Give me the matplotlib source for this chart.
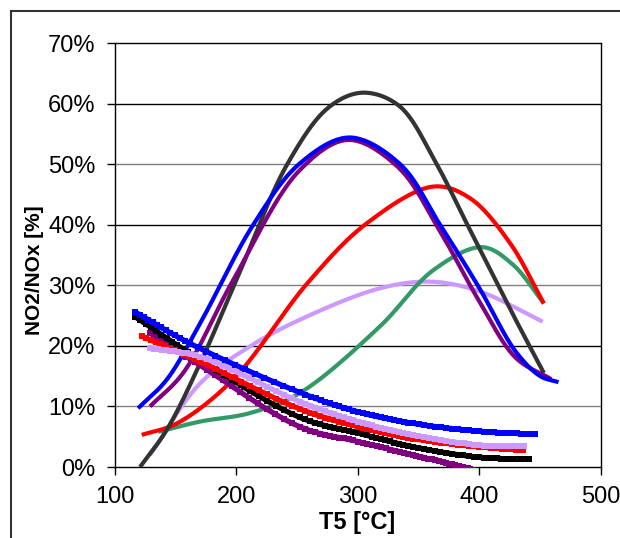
import numpy as np
import matplotlib
matplotlib.use("Agg")
import matplotlib.pyplot as plt
from matplotlib.lines import Line2D
from matplotlib.ticker import FuncFormatter

plt.rcParams['font.family'] = ['Liberation Sans', 'DejaVu Sans']

# smooth curves (T5 [°C], NO2/NOx [%])
gray_t = [120.6, 142.5, 170, 200, 241.8, 276, 304, 334, 364.7, 389.5, 428, 453]
gray_v = [0.0, 6.1, 17.1, 30.9, 50, 59.4, 61.8, 59.6, 50, 40.2, 25, 15.5]

blue_t = [119, 142.5, 170, 213.8, 252, 293, 334.6, 367.5, 400, 430, 450, 465]
blue_v = [9.7, 14.4, 23.7, 40, 50.1, 54.4, 50, 40, 29.5, 19, 15, 14]

purple_t = [128.8, 156, 197.4, 252, 292, 333, 367, 400, 430, 459]
purple_v = [10.0, 15.5, 30.9, 49, 54, 49.5, 39.1, 27.3, 18, 14.5]

red_t = [122, 151, 197, 259, 307, 362, 392, 425, 453]
red_v = [5.3, 7.2, 14.4, 30.5, 40.2, 46.3, 44.4, 37, 27]

green_t = [135.6, 170, 211, 252, 318, 362, 402, 427, 453]
green_v = [5.8, 7.5, 8.9, 12.2, 23.2, 32.5, 36.3, 33.5, 27]

lilac_t = [128.8, 170, 211, 252, 318, 360, 400, 452]
lilac_v = [2.0, 13.8, 19.9, 24.3, 29.5, 30.6, 29.0, 24]

# marker series (decreasing)
sq_blue_t = [116.5, 161.7, 252.3, 300, 345.5, 400, 445.7]
sq_blue_v = [25.6, 20.4, 12.3, 9.1, 7.2, 5.9, 5.4]

sq_black_t = [116.5, 170, 252, 300, 345, 400, 441]
sq_black_v = [24.8, 17.7, 8.2, 5.6, 3.35, 1.6, 1.3]

sq_red_t = [121.9, 170, 252, 300, 345, 400, 436]
sq_red_v = [21.6, 17.4, 9.6, 6.65, 4.7, 3.35, 2.8]

sq_lilac_t = [128.8, 170, 252, 300, 345, 400, 437]
sq_lilac_v = [19.6, 18.2, 10.8, 7.5, 5.3, 3.6, 3.4]

sq_purple_t = [128.8, 170, 252, 300, 345, 380, 395]
sq_purple_v = [22.1, 16.8, 6.65, 4.2, 2.0, 0.3, -0.5]

# pixel scale of the plot area, used only to shape the curve smoothing
SX, SY = 486 / 400, 424 / 70


def smooth(xs, ys, n=24, alpha=0.5):
    # centripetal Catmull-Rom through the points (Excel-like smoothed line)
    p = np.column_stack([np.asarray(xs) * SX, np.asarray(ys) * SY]).astype(float)
    p = np.vstack([2 * p[0] - p[1], p, 2 * p[-1] - p[-2]])
    out = []
    for i in range(1, len(p) - 2):
        p0, p1, p2, p3 = p[i - 1], p[i], p[i + 1], p[i + 2]
        t0 = 0.0
        t1 = t0 + np.linalg.norm(p1 - p0) ** alpha
        t2 = t1 + np.linalg.norm(p2 - p1) ** alpha
        t3 = t2 + np.linalg.norm(p3 - p2) ** alpha
        t = np.linspace(t1, t2, n, endpoint=False)[:, None]
        a1 = (t1 - t) / (t1 - t0) * p0 + (t - t0) / (t1 - t0) * p1
        a2 = (t2 - t) / (t2 - t1) * p1 + (t - t1) / (t2 - t1) * p2
        a3 = (t3 - t) / (t3 - t2) * p2 + (t - t2) / (t3 - t2) * p3
        b1 = (t2 - t) / (t2 - t0) * a1 + (t - t0) / (t2 - t0) * a2
        b2 = (t3 - t) / (t3 - t1) * a2 + (t - t1) / (t3 - t1) * a3
        out.append((t2 - t) / (t2 - t1) * b1 + (t - t1) / (t2 - t1) * b2)
    out.append(p[-2][None, :])
    out = np.vstack(out)
    return out[:, 0] / SX, out[:, 1] / SY


fig = plt.figure(figsize=(6.2, 5.38), dpi=100)
ax = fig.add_axes([115 / 620, 71 / 538, 486 / 620, 424 / 538])

# gridlines
for g in range(10, 70, 10):
    ax.axhline(g, color='black' if g % 20 == 0 else '#808080', lw=1.0, zorder=1)

smooth_series = [
    (lilac_t, lilac_v, '#CC99FF'),
    (green_t, green_v, '#339966'),
    (red_t, red_v, '#FF0000'),
    (gray_t, gray_v, '#333333'),
    (purple_t, purple_v, '#800080'),
    (blue_t, blue_v, '#0000FF'),
]
square_series = [
    (sq_purple_t, sq_purple_v, '#800080'),
    (sq_black_t, sq_black_v, '#000000'),
    (sq_red_t, sq_red_v, '#FF0000'),
    (sq_lilac_t, sq_lilac_v, '#CC99FF'),
    (sq_blue_t, sq_blue_v, '#0000FF'),
]

for t, v, c in smooth_series:
    x, y = smooth(t, v)
    ax.plot(x, y, color=c, lw=3.0, solid_capstyle='butt', zorder=3)

for t, v, c in square_series:
    x, y = smooth(t, v, n=12)
    ax.plot(x, y, color=c, lw=3.8, marker='s', ms=4.3, mew=0,
            solid_capstyle='butt', zorder=3)

ax.set_xlim(100, 500)
ax.set_ylim(0, 70)
ax.set_xticks([100, 200, 300, 400, 500])
ax.set_yticks(range(0, 71, 10))
ax.yaxis.set_major_formatter(FuncFormatter(lambda v, pos: f'{int(v)}%'))
ax.tick_params(direction='out', length=6, width=1, labelsize=17, pad=8, colors='black')
for s in ax.spines.values():
    s.set_linewidth(1.0)
    s.set_color('black')

ax.set_xlabel('T5 [°C]', fontsize=17, fontweight='bold')
ax.set_ylabel('NO2/NOx [%]', fontsize=15, fontweight='bold')
ax.xaxis.set_label_coords(0.499, -0.103)
ax.yaxis.set_label_coords(-0.146, 0.465)

# outer chart frame (right/bottom edges are cut off in the picture)
fy = 1 - 11 / 538
fx = 11 / 620
fig.add_artist(Line2D([fx, fx], [0, fy], color='#333333', lw=1.5))
fig.add_artist(Line2D([fx, 1], [fy, fy], color='#333333', lw=1.5))

fig.savefig('out.png', dpi=100)
